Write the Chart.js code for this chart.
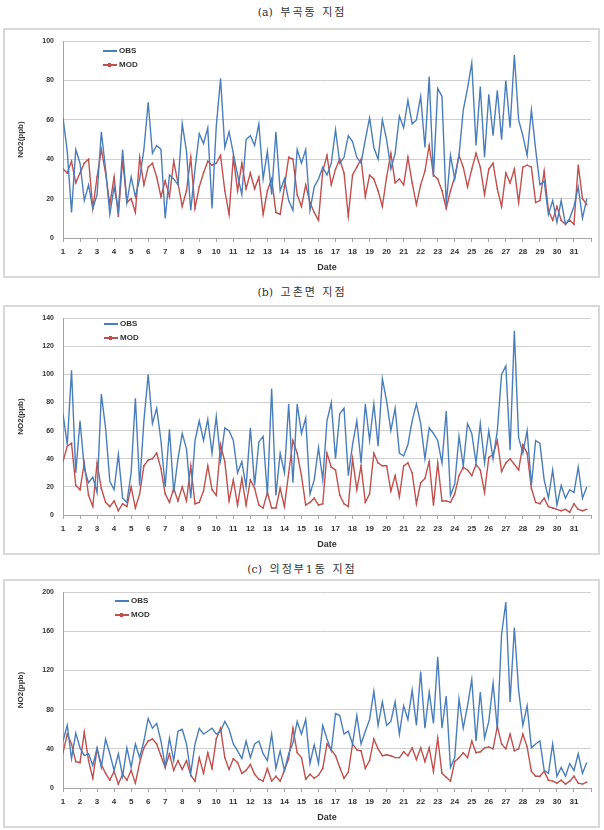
<!DOCTYPE html>
<html lang="ko">
<head>
<meta charset="utf-8">
<title>NO2 OBS / MOD</title>
<script src="https://cdn.jsdelivr.net/npm/chart.js@4.4.1/dist/chart.umd.min.js"></script>
<style>
  html, body { margin: 0; padding: 0; background: #fff; }
  body { width: 604px; height: 830px; position: relative; overflow: hidden; }
  .title { position: absolute; left: 0; width: 604px; text-align: center; font-family: "DejaVu Serif", "Noto Sans CJK KR", serif; font-size: 11px; letter-spacing: 2px; color: #333; line-height: 14px; }
  .title b { font-weight: normal; letter-spacing: 0; margin-right: 2px; }
  .panel { position: absolute; left: 0; width: 604px; }
  .frame { position: absolute; left: 3px; top: 0; width: 597px; height: 100%; border: 2px solid #d9d9d9; box-sizing: border-box; }
  .panel canvas { position: absolute; left: 0; top: 0; }
  .legend { position: absolute; font: bold 8px "Liberation Sans", Arial, sans-serif; color: #333; }
  .legend div { position: relative; height: 14px; line-height: 14px; padding-left: 16px; }
  .legend span { position: absolute; left: 0; top: 6px; width: 14px; border-top: 2px solid; }
  .legend i { position: absolute; left: 5px; top: 5px; width: 3px; height: 4px; }
</style>
</head>
<body>

<div class="title" style="top:6px"><b>(a)</b> 부곡동 지점</div>
<div class="panel" id="pa" style="top:28px;height:250px">
  <div class="frame"></div>
  <canvas id="chartA" width="604" height="250"></canvas>
  <div class="legend" style="left:103px;top:16px">
    <div><span style="border-color:#4a7ebb"></span>OBS</div>
    <div><span style="border-color:#c0504d"></span><i style="background:#c0504d"></i>MOD</div>
  </div>
</div>

<div class="title" style="top:286px"><b>(b)</b> 고촌면 지점</div>
<div class="panel" id="pb" style="top:305px;height:250px">
  <div class="frame"></div>
  <canvas id="chartB" width="604" height="250"></canvas>
  <div class="legend" style="left:104px;top:12px">
    <div><span style="border-color:#4a7ebb"></span>OBS</div>
    <div><span style="border-color:#c0504d"></span><i style="background:#c0504d"></i>MOD</div>
  </div>
</div>

<div class="title" style="top:563px"><b>(c)</b> 의정부1동 지점</div>
<div class="panel" id="pc" style="top:579px;height:249px">
  <div class="frame"></div>
  <canvas id="chartC" width="604" height="249"></canvas>
  <div class="legend" style="left:115px;top:15px">
    <div><span style="border-color:#4a7ebb"></span>OBS</div>
    <div><span style="border-color:#c0504d"></span><i style="background:#c0504d"></i>MOD</div>
  </div>
</div>

<script>
// Date ticks (day of month) and sampling step of the series (hours)
const days = Array.from({ length: 31 }, (_, i) => i + 1);
const stepHours = 6;

// (a) 부곡동
const obsA = [
  61, 44, 13, 45, 38, 19, 27, 15, 22, 54, 35, 12, 26, 14, 45, 18,
  31, 21, 30, 45, 69, 43, 47, 45, 10, 32, 30, 27, 58, 44, 14, 35,
  53, 48, 56, 15, 57, 81, 46, 54, 43, 32, 22, 50, 52, 47, 58, 30,
  44, 22, 54, 24, 30, 19, 14, 45, 38, 45, 14, 26, 30, 36, 32, 38,
  55, 38, 41, 52, 49, 41, 38, 50, 61, 46, 40, 60, 50, 35, 43, 62,
  56, 70, 58, 60, 72, 46, 82, 31, 76, 72, 17, 42, 30, 42, 65, 76,
  89, 47, 77, 41, 73, 52, 75, 50, 80, 56, 93, 60, 52, 42, 65, 45,
  27, 29, 12, 19, 8, 19, 7, 10, 16, 26, 10, 20
];
const modA = [
  35, 33, 39, 28, 33, 38, 40, 15, 31, 45, 33, 17, 31, 11, 40, 18,
  20, 13, 41, 27, 36, 38, 31, 21, 29, 21, 39, 28, 16, 24, 41, 15,
  26, 33, 39, 37, 38, 42, 24, 12, 41, 24, 38, 25, 33, 25, 31, 12,
  24, 30, 13, 12, 26, 41, 40, 22, 16, 27, 18, 13, 9, 34, 42, 27,
  35, 40, 33, 11, 32, 36, 40, 21, 32, 30, 24, 16, 31, 43, 28, 30,
  27, 41, 28, 17, 27, 34, 47, 32, 30, 24, 15, 24, 31, 42, 36, 26,
  35, 43, 36, 22, 35, 38, 25, 16, 33, 28, 35, 18, 36, 37, 36, 18,
  19, 34, 14, 9, 16, 9, 7, 9, 7, 37, 20, 17
];

// (b) 고촌면
const obsB = [
  72, 50, 103, 30, 67, 33, 23, 27, 16, 86, 62, 24, 18, 43, 12, 9,
  30, 83, 21, 67, 100, 65, 76, 53, 20, 61, 16, 40, 58, 47, 12, 53,
  67, 53, 68, 44, 70, 39, 62, 60, 53, 30, 38, 20, 62, 21, 52, 56,
  14, 90, 14, 44, 30, 79, 23, 79, 58, 69, 15, 25, 48, 25, 67, 80,
  40, 72, 76, 28, 50, 67, 37, 79, 53, 79, 49, 97, 81, 60, 76, 44,
  42, 50, 67, 79, 65, 40, 62, 58, 53, 37, 74, 14, 22, 56, 35, 65,
  58, 37, 65, 37, 60, 40, 60, 100, 106, 46, 131, 55, 44, 60, 21, 53,
  51, 25, 12, 32, 7, 21, 12, 18, 16, 34, 12, 20
];
const modB = [
  38, 49, 51, 21, 18, 37, 14, 6, 37, 19, 9, 6, 10, 3, 8, 6,
  20, 5, 15, 35, 39, 40, 44, 33, 15, 9, 19, 10, 20, 10, 35, 8,
  9, 17, 35, 18, 14, 50, 38, 10, 25, 7, 26, 7, 25, 19, 7, 5,
  16, 5, 5, 19, 6, 30, 53, 44, 28, 7, 9, 12, 7, 8, 44, 34,
  32, 14, 8, 6, 40, 18, 35, 9, 15, 44, 37, 35, 35, 17, 28, 13,
  35, 37, 30, 8, 23, 26, 38, 7, 37, 10, 10, 9, 15, 28, 34, 32,
  28, 36, 32, 16, 41, 43, 53, 31, 37, 40, 36, 32, 50, 44, 19, 9,
  8, 12, 6, 5, 4, 3, 4, 2, 8, 4, 3, 4
];

// (c) 의정부1동
const obsC = [
  48, 64, 30, 56, 41, 33, 35, 23, 41, 21, 50, 35, 18, 35, 12, 41,
  21, 45, 31, 48, 71, 61, 66, 48, 22, 51, 28, 58, 60, 45, 15, 45,
  61, 55, 58, 61, 55, 58, 68, 60, 45, 38, 30, 48, 31, 45, 48, 35,
  28, 55, 20, 38, 18, 35, 46, 68, 55, 70, 25, 44, 25, 64, 50, 38,
  76, 74, 55, 58, 45, 74, 45, 58, 70, 99, 64, 88, 64, 68, 88, 55,
  84, 70, 100, 64, 119, 61, 98, 66, 134, 61, 94, 21, 31, 91, 61, 84,
  111, 48, 98, 51, 68, 107, 60, 157, 190, 88, 164, 100, 64, 84, 41, 45,
  48, 18, 15, 45, 12, 21, 12, 25, 18, 35, 15, 26
];
const modC = [
  36, 55, 45, 27, 26, 57, 28, 10, 40, 24, 15, 8, 17, 4, 14, 8,
  18, 5, 26, 41, 48, 50, 45, 33, 21, 35, 18, 28, 19, 28, 13, 7,
  31, 15, 36, 20, 50, 61, 31, 19, 30, 26, 15, 18, 24, 14, 9, 7,
  20, 7, 12, 7, 18, 30, 61, 36, 31, 9, 14, 10, 13, 20, 45, 39,
  33, 21, 10, 16, 45, 39, 38, 20, 28, 50, 40, 33, 34, 33, 31, 31,
  37, 33, 41, 29, 41, 27, 41, 17, 51, 15, 11, 7, 27, 31, 36, 31,
  48, 36, 37, 41, 42, 40, 63, 45, 40, 55, 38, 40, 55, 42, 17, 12,
  12, 17, 8, 7, 5, 8, 4, 7, 12, 5, 4, 6
];

// Colores y fuentes
const OBS_COLOR = '#4a7ebb';
const MOD_COLOR = '#c0504d';
const TEXT_COLOR = '#333333';
const FONT = '"Liberation Sans", Arial, sans-serif';

// Convierte una serie (un valor cada 6 h) en puntos {x: día, y: valor}
function toPoints(values) {
  return values.map((v, i) => ({ x: days[0] + i * stepHours / 24, y: v }));
}

function makeChart(canvasId, obs, mod, yMax, yStep, padTop) {
  const ctx = document.getElementById(canvasId).getContext('2d');
  return new Chart(ctx, {
    type: 'line',
    data: {
      datasets: [
        {
          label: 'OBS',
          data: toPoints(obs),
          borderColor: OBS_COLOR,
          borderWidth: 1.4,
          pointRadius: 0,
          tension: 0,
          fill: false
        },
        {
          label: 'MOD',
          data: toPoints(mod),
          borderColor: MOD_COLOR,
          backgroundColor: MOD_COLOR,
          borderWidth: 1.4,
          pointRadius: 1,
          pointStyle: 'rect',
          pointBorderWidth: 0,
          tension: 0,
          fill: false
        }
      ]
    },
    options: {
      responsive: false,
      animation: false,
      devicePixelRatio: 1,
      layout: { padding: { left: 16, top: padTop, right: 13, bottom: 0 } },
      plugins: { legend: { display: false }, tooltip: { enabled: false } },
      scales: {
        x: {
          type: 'linear',
          min: days[0],
          max: days[days.length - 1] + 1,
          afterFit: (s) => { s.height = 40; },
          grid: { drawOnChartArea: false, drawTicks: true, tickLength: 4, color: '#a6a6a6' },
          border: { color: '#a6a6a6' },
          ticks: {
            stepSize: 1,
            autoSkip: false,
            maxRotation: 0,
            padding: 5,
            color: TEXT_COLOR,
            font: { family: FONT, size: 8, weight: 'bold' },
            callback: (v) => (days.includes(v) ? String(v) : '')
          },
          title: {
            display: true,
            text: 'Date',
            color: TEXT_COLOR,
            font: { family: FONT, size: 9, weight: 'bold' },
            padding: { top: 0, bottom: 5 }
          }
        },
        y: {
          min: 0,
          max: yMax,
          afterFit: (s) => { s.width = 47; },
          grid: { color: '#d0d0d0', drawTicks: false },
          border: { color: '#a6a6a6' },
          ticks: {
            stepSize: yStep,
            padding: 9,
            color: TEXT_COLOR,
            font: { family: FONT, size: 7, weight: 'bold' }
          },
          title: {
            display: true,
            text: 'NO2(ppb)',
            color: TEXT_COLOR,
            font: { family: FONT, size: 8, weight: 'bold' },
            padding: { top: 0, bottom: 0 }
          }
        }
      }
    }
  });
}

makeChart('chartA', obsA, modA, 100, 20, 10);
makeChart('chartB', obsB, modB, 140, 20, 8);
makeChart('chartC', obsC, modC, 200, 40, 8);
</script>
</body>
</html>
